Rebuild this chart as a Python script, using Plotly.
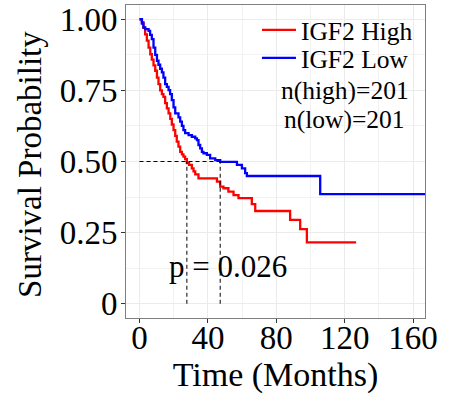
import plotly.graph_objects as go

# Kaplan-Meier step data (time in months, survival after step)
high_t = [0, 1.4, 2.3, 3.3, 4.3, 5.3, 6.3, 7.2, 8.2, 9.2, 10.2, 11.1, 12.1, 13.1, 14.0,
          15.0, 16.0, 17.0, 18.0, 18.9, 19.9, 20.9, 21.8, 22.8, 23.8, 24.8, 25.7, 26.7,
          27.7, 29.0, 30.6, 31.6, 32.6, 34.5, 45.3, 47.2, 49.1, 52.0, 55.0, 57.9, 65.7,
          67.7, 88.1, 94.0, 97.9, 126.7]
high_s = [1.0, 0.99, 0.97, 0.947, 0.925, 0.90, 0.877, 0.858, 0.838, 0.819, 0.795, 0.772,
          0.75, 0.737, 0.727, 0.705, 0.687, 0.669, 0.65, 0.63, 0.61, 0.59, 0.57, 0.552,
          0.534, 0.525, 0.517, 0.508, 0.494, 0.488, 0.476, 0.465, 0.455, 0.441, 0.429,
          0.412, 0.406, 0.394, 0.382, 0.371, 0.350, 0.326, 0.295, 0.262, 0.216, 0.216]

low_t = [0, 1.4, 2.3, 3.3, 5.3, 6.2, 7.2, 8.2, 9.2, 10.2, 11.1, 12.1, 13.1, 14.0, 15.0,
         16.0, 17.0, 17.9, 18.9, 19.9, 20.9, 22.8, 23.8, 24.8, 25.7, 26.7, 28.7, 30.6,
         32.6, 33.6, 34.5, 35.5, 36.5, 37.4, 39.4, 41.3, 44.3, 47.2, 57.0, 59.9, 61.8,
         62.8, 105.7, 167.0]
low_s = [1.0, 0.985, 0.971, 0.965, 0.959, 0.945, 0.93, 0.90, 0.875, 0.854, 0.84, 0.826,
         0.813, 0.795, 0.772, 0.762, 0.751, 0.737, 0.716, 0.69, 0.669, 0.655, 0.64, 0.625,
         0.61, 0.60, 0.593, 0.587, 0.581, 0.575, 0.558, 0.546, 0.534, 0.529, 0.523, 0.511,
         0.505, 0.499, 0.488, 0.476, 0.459, 0.449, 0.385, 0.385]

median_high = 27.7
median_low = 47.2
median_level = 0.5

x_ticks = [0, 40, 80, 120, 160]
y_ticks = [0, 0.25, 0.5, 0.75, 1.0]
y_tick_labels = ["0", "0.25", "0.50", "0.75", "1.00"]
series_names = ["IGF2 High", "IGF2 Low"]
n_labels = ["n(high)=201", "n(low)=201"]
p_label = "p = 0.026"
p_pos = (51.5, 0.131)
x_title = "Time (Months)"
y_title = "Survival Probability"

FONT = "Liberation Serif, Times New Roman, serif"

fig = go.Figure()
fig.add_trace(go.Scatter(x=high_t, y=high_s, mode="lines", line_shape="hv",
                         line=dict(color="#FF0000", width=2.3), name=series_names[0],
                         legend="legend"))
fig.add_trace(go.Scatter(x=low_t, y=low_s, mode="lines", line_shape="hv",
                         line=dict(color="#0000FF", width=2.3), name=series_names[1],
                         legend="legend2"))

dash_style = dict(color="black", width=1, dash="4px,3px")
fig.add_trace(go.Scatter(x=[0, median_low], y=[median_level, median_level], mode="lines",
                         line=dash_style, showlegend=False, hoverinfo="skip"))
fig.add_trace(go.Scatter(x=[median_high, median_high], y=[0, median_level], mode="lines",
                         line=dash_style, showlegend=False, hoverinfo="skip"))
fig.add_trace(go.Scatter(x=[median_low, median_low], y=[0, median_level], mode="lines",
                         line=dash_style, showlegend=False, hoverinfo="skip"))

fig.add_annotation(x=p_pos[0], y=p_pos[1], xref="x", yref="y", text=p_label,
                   showarrow=False, xanchor="center", yanchor="middle",
                   font=dict(family=FONT, size=31, color="black"))

for txt, yy in zip(n_labels, [0.726, 0.633]):
    fig.add_annotation(x=0.731, y=yy, xref="paper", yref="paper", text=txt,
                       showarrow=False, xanchor="center", yanchor="middle",
                       font=dict(family=FONT, size=25.5, color="black"))

# y-axis title placed as a rotated annotation
fig.add_annotation(x=-0.321, y=0.489, xref="paper", yref="paper", text=y_title,
                   showarrow=False, xanchor="center", yanchor="middle", textangle=-90,
                   font=dict(family=FONT, size=33, color="black"))

axis_common = dict(showgrid=True, gridcolor="#EBEBEB", gridwidth=1.2,
                   showline=True, linecolor="#7F7F7F", linewidth=1, mirror=True,
                   ticks="outside", ticklen=4, tickcolor="#333333", tickwidth=1,
                   zeroline=False, automargin=False,
                   tickfont=dict(family=FONT, size=33, color="black"),
                   title_font=dict(family=FONT, size=34, color="black"))

fig.update_xaxes(**axis_common, range=[-7.9, 167], tickvals=x_ticks,
                 ticktext=[str(v) for v in x_ticks],
                 minor=dict(dtick=20, tick0=0, showgrid=True, gridcolor="#F2F2F2", gridwidth=0.6),
                 title_text=x_title, title_standoff=0, ticklabelstandoff=-14)
fig.update_yaxes(**axis_common, range=[-0.05, 1.05], tickvals=y_ticks, ticktext=y_tick_labels,
                 minor=dict(dtick=0.125, tick0=0, showgrid=True, gridcolor="#F2F2F2", gridwidth=0.6),
                 ticklabelstandoff=-3)

legend_common = dict(xanchor="left", yanchor="top",
                     font=dict(family=FONT, size=25.5, color="black"),
                     bgcolor="rgba(0,0,0,0)", tracegroupgap=0, itemwidth=34)
fig.update_layout(
    width=451, height=394,
    margin=dict(l=126, r=26, t=5, b=76),
    plot_bgcolor="white", paper_bgcolor="white",
    font=dict(family=FONT, color="black"),
    legend=dict(x=0.438, y=0.994, **legend_common),
    legend2=dict(x=0.438, y=0.905, **legend_common),
)

fig.write_html("out.html")
